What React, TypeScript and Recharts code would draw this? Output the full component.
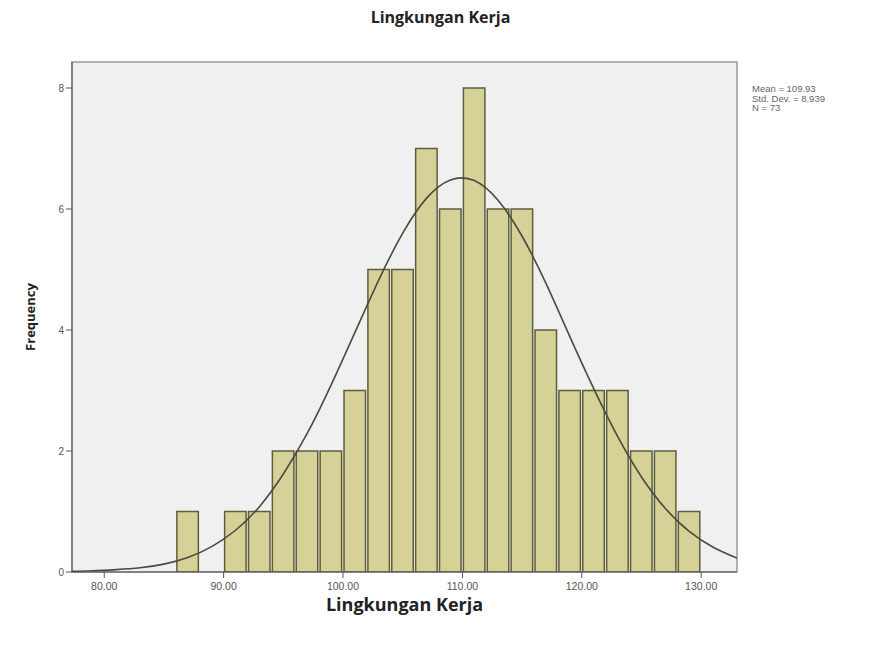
import React from 'react';
import {
  ComposedChart, Bar, Line, XAxis, YAxis,
  CartesianGrid, ReferenceArea, Label
} from 'recharts';

// histogram bins (width 2), centres and counts
const binCenters = [87, 89, 91, 93, 95, 97, 99, 101, 103, 105, 107, 109, 111, 113, 115, 117, 119, 121, 123, 125, 127, 129];
const frequencies = [1, 0, 1, 1, 2, 2, 2, 3, 5, 5, 7, 6, 8, 6, 6, 4, 3, 3, 3, 2, 2, 1];

// normal curve (same x grid as the bins)
const curveX = [77, 79, 81, 83, 85, 87, 89, 91, 93, 95, 97, 99, 101, 103, 105, 107, 109, 111, 113, 115, 117, 119, 121, 123, 125, 127, 129, 131, 133];
const curveY = [0.01, 0.02, 0.04, 0.07, 0.13, 0.24, 0.42, 0.69, 1.08, 1.62, 2.29, 3.09, 3.96, 4.83, 5.6, 6.18, 6.48, 6.47, 6.14, 5.55, 4.77, 3.89, 3.03, 2.24, 1.57, 1.05, 0.67, 0.41, 0.23];

const xTicks = [80, 90, 100, 110, 120, 130];
const yTicks = [0, 2, 4, 6, 8];
const statLines = ['Mean = 109.93', 'Std. Dev. = 8.939', 'N = 73'];

const X_MIN = 77.3;
const X_MAX = 133;
const Y_MAX = 8.43;
const PLOT_W = 665;

const byX = new Map<number, { x: number; freq?: number; curve?: number }>();
curveX.forEach((x, i) => byX.set(x, { x, curve: curveY[i] }));
binCenters.forEach((x, i) => {
  const row = byX.get(x) || { x };
  row.freq = frequencies[i];
  byX.set(x, row);
});
const rows = Array.from(byX.values()).sort((a, b) => a.x - b.x);

const barWidth = (PLOT_W / (X_MAX - X_MIN)) * 2;

const App = () => {
  return (
    <div style={{ position: 'absolute', left: 0, top: 0, width: 881, height: 645, background: '#fff', fontFamily: '"Open Sans", sans-serif' }}>
      <div style={{ position: 'absolute', top: 6, left: 0, width: 881, textAlign: 'center', fontWeight: 700, fontSize: 16, color: '#222' }}>
        Lingkungan Kerja
      </div>
      <div style={{ position: 'absolute', left: 752, top: 84, fontFamily: 'Arial, "Liberation Sans", sans-serif', fontSize: 9.5, lineHeight: '9.5px', color: '#666' }}>
        {statLines.map((s) => <div key={s}>{s}</div>)}
      </div>
      <ComposedChart
        width={881}
        height={645}
        data={rows}
        margin={{ top: 62, right: 144, bottom: 33, left: 0 }}
        barCategoryGap={0}
      >
        <CartesianGrid horizontal={false} vertical={false} fill="#f0f0f0" />
        <XAxis
          dataKey="x"
          type="number"
          domain={[X_MIN, X_MAX]}
          allowDataOverflow
          ticks={xTicks}
          tickFormatter={(v: number) => v.toFixed(2)}
          tick={{ fontSize: 10.5, fill: '#555', fontFamily: 'Arial, sans-serif', dy: 3 }}
          tickSize={6}
          stroke="#555"
          height={40}
        >
          <Label value="Lingkungan Kerja" position="insideBottom" offset={1} style={{ fontSize: 18, fontWeight: 700, fill: '#222', fontFamily: '"Open Sans", sans-serif' }} />
        </XAxis>
        <YAxis
          type="number"
          domain={[0, Y_MAX]}
          allowDataOverflow
          ticks={yTicks}
          tick={{ fontSize: 10, fill: '#555', fontFamily: 'Arial, sans-serif' }}
          tickSize={6}
          stroke="#555"
          width={72}
        >
          <Label value="Frequency" angle={-90} position="insideLeft" offset={30} style={{ fontSize: 13, fontWeight: 700, fill: '#222', textAnchor: 'middle', fontFamily: '"Open Sans", sans-serif' }} />
        </YAxis>
        <Bar dataKey="freq" fill="#d6d196" stroke="#5e5e3e" strokeWidth={1.5} barSize={barWidth} isAnimationActive={false} />
        <Line dataKey="curve" type="natural" stroke="#4a4a40" strokeWidth={1.6} dot={false} connectNulls isAnimationActive={false} />
        <ReferenceArea x1={X_MIN} x2={X_MAX} y1={0} y2={Y_MAX} fill="none" stroke="#999" strokeWidth={1.5} />
      </ComposedChart>
    </div>
  );
};

export default App;
